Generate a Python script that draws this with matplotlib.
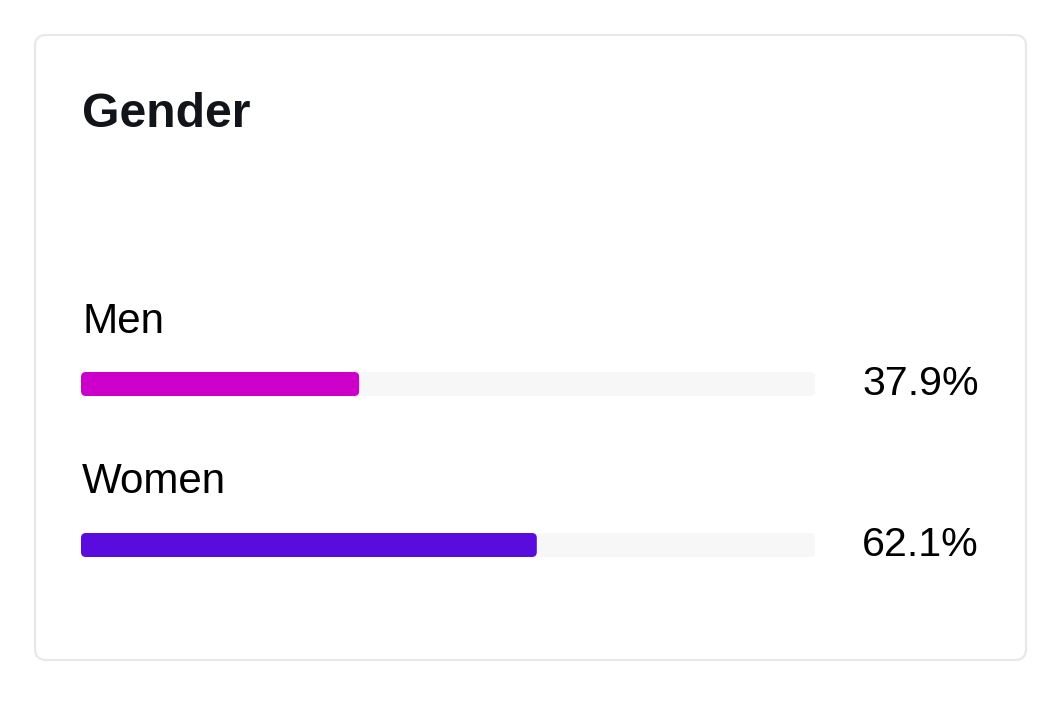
import matplotlib.pyplot as plt
from matplotlib.patches import FancyBboxPatch

categories = ['Men', 'Women']
shares = [37.9, 62.1]
bar_colors = ['#CC00C8', '#5A0BDE']
title = 'Gender'

W, H = 1062, 707
fig = plt.figure(figsize=(W / 100, H / 100), dpi=100)
plt.rcParams['font.family'] = ['Liberation Sans', 'DejaVu Sans']

# background axes in pixel coordinates: card + text
bg = fig.add_axes([0, 0, 1, 1])
bg.set_xlim(0, W)
bg.set_ylim(H, 0)
bg.axis('off')
card = FancyBboxPatch((35, 35), 991, 625, boxstyle='round,pad=0,rounding_size=11',
                      fc='white', ec='#E6E8EB', lw=1.6)
bg.add_patch(card)
bg.text(82, 127, title, fontsize=34.7, fontweight='bold', color='#111418',
        ha='left', va='baseline')

# bar axes: x in percent, y in pixels
x0, x1 = 81, 815
bars = fig.add_axes([x0 / W, 0, (x1 - x0) / W, 1])
bars.set_xlim(0, 100)
bars.set_ylim(H, 0)
bars.axis('off')
ppx = (x1 - x0) / 100
r = 5 / ppx

label_y = [333, 493]
bar_mid = [384, 545]
bh = 24
for cat, val, col, ly, my in zip(categories, shares, bar_colors, label_y, bar_mid):
    bg.text(82, ly, cat, fontsize=30.3, color='#000000', ha='left', va='baseline')
    bg.text(979, my, f'{val}%', fontsize=29.6, color='#000000', ha='right', va='center')
    track = FancyBboxPatch((0, my - bh / 2), 100, bh,
                           boxstyle=f'round,pad=0,rounding_size={r}',
                           mutation_aspect=ppx, fc='#F7F7F7', ec='none')
    bars.add_patch(track)
    bar = FancyBboxPatch((0, my - bh / 2), val, bh,
                         boxstyle=f'round,pad=0,rounding_size={r}',
                         mutation_aspect=ppx, fc=col, ec='none')
    bars.add_patch(bar)

fig.savefig('out.png', dpi=100)
